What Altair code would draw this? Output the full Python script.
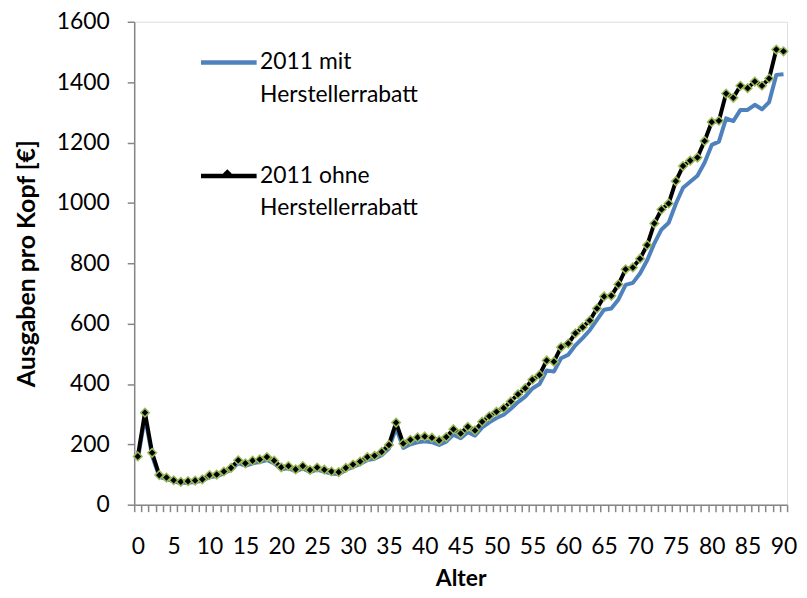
import altair as alt
import pandas as pd

# ---- data ----
ages = list(range(91))
mit = [150, 292, 162, 92, 85, 77, 72, 73, 75, 79,
       92, 94, 104, 116, 138, 129, 137, 141, 148, 137,
       117, 121, 110, 120, 108, 116, 109, 103, 101, 115,
       125, 135, 148, 152, 164, 186, 255, 188, 200, 207,
       210, 207, 198, 209, 232, 220, 240, 229, 256, 273,
       287, 298, 318, 340, 358, 385, 400, 445, 441, 485,
       497, 528, 552, 578, 612, 646, 650, 680, 728, 735,
       766, 810, 866, 912, 934, 997, 1050, 1070, 1090, 1133,
       1192, 1203, 1280, 1271, 1308, 1308, 1325, 1310, 1334, 1424,
       1426]
ohne = [160, 305, 172, 98, 90, 81, 76, 78, 80, 84,
        98, 100, 110, 122, 147, 137, 146, 150, 158, 146,
        124, 128, 117, 128, 115, 123, 116, 110, 108, 122,
        133, 143, 158, 162, 175, 198, 272, 203, 215, 223,
        226, 222, 213, 224, 250, 236, 258, 246, 275, 293,
        308, 320, 342, 366, 386, 414, 430, 478, 474, 522,
        534, 568, 588, 610, 650, 690, 692, 730, 780, 786,
        815, 860, 932, 978, 998, 1072, 1122, 1140, 1150, 1205,
        1268, 1272, 1362, 1348, 1388, 1380, 1402, 1388, 1412, 1508,
        1502]
series_names = ["2011 mit|Herstellerrabatt", "2011 ohne|Herstellerrabatt"]
y_ticks = [0, 200, 400, 600, 800, 1000, 1200, 1400, 1600]

rows = []
for a, v in zip(ages, mit):
    rows.append({"Alter": a, "Wert": v, "Reihe": series_names[0]})
for a, v in zip(ages, ohne):
    rows.append({"Alter": a, "Wert": v, "Reihe": series_names[1]})
df_lines = pd.DataFrame(rows)
df_points = pd.DataFrame({"Alter": ages, "Wert": ohne, "Reihe2": series_names[1]})

FONT = "Lato"
GREY = "#868686"
BLUE = "#4F81BD"
GREEN = "#9BBB59"
SYM = 3136  # symbol size -> 56 px legend line; custom paths scaled by 28
DIAMOND = "M0,-0.155L0.155,0L0,0.155L-0.155,0Z"
EMPTY = "M0,0"

x_scale = alt.Scale(domain=[-0.5, 90.5], nice=False, zero=False)
y_scale = alt.Scale(domain=[0, 1600], nice=False)

x_axis = alt.Axis(
    values=[a - 0.5 for a in range(92)],
    labelExpr="(datum.value + 0.5) % 5 == 0 ? format(datum.value + 0.5, 'd') : ''",
    labelOffset=3.61, labelOverlap=False, labelFlush=False, labelBound=False,
    grid=False, domainColor=GREY, domainWidth=1.5, tickColor=GREY, tickWidth=1.5,
    tickSize=7, labelPadding=24, labelFont=FONT, labelFontSize=23, labelColor="black",
    titleFont=FONT, titleFontSize=23, titleFontWeight="bold", titleColor="black",
    titleX=328.5, titleY=74, titleAlign="center", titleBaseline="middle",
)
y_axis = alt.Axis(
    values=y_ticks, format="d", grid=False, domainColor=GREY, domainWidth=1.5,
    tickColor=GREY, tickWidth=1.5, tickSize=7, labelPadding=18, labelFont=FONT,
    labelFontSize=23, labelColor="black", titleFont=FONT, titleFontSize=25,
    titleFontWeight="bold", titleColor="black", titleX=-108.5, titleY=243,
    titleAngle=270, titleAlign="center", titleBaseline="middle",
)

label_expr = "split(datum.label, '|')"
blank_expr = "['\u00a0', '\u00a0']"
LX, LY, RP = 64.7, 10.5, 39.3

lines = alt.Chart(df_lines).mark_line(strokeWidth=4, strokeJoin="round").encode(
    x=alt.X("Alter:Q", scale=x_scale, axis=x_axis, title="Alter"),
    y=alt.Y("Wert:Q", scale=y_scale, axis=y_axis, title="Ausgaben pro Kopf [€]"),
    color=alt.Color(
        "Reihe:N",
        scale=alt.Scale(range=[BLUE, "#000000"]),
        legend=alt.Legend(
            title=None, orient="none", legendX=LX, legendY=LY, padding=0,
            symbolType="stroke", symbolSize=SYM, symbolStrokeWidth=4.5,
            labelExpr=label_expr, labelFont=FONT, labelFontSize=23,
            labelColor="black", labelLimit=400,
            labelBaseline="middle", labelOffset=1, rowPadding=RP,
        ),
    ),
)

points = alt.Chart(df_points).mark_point(
    filled=True, fill="black", stroke=GREEN, strokeWidth=1.5, size=SYM, opacity=1
).encode(
    x=alt.X("Alter:Q", scale=x_scale, axis=x_axis, title="Alter"),
    y=alt.Y("Wert:Q", scale=y_scale, axis=y_axis, title="Ausgaben pro Kopf [€]"),
    shape=alt.Shape(
        "Reihe2:N",
        scale=alt.Scale(domain=series_names, range=[EMPTY, DIAMOND]),
        legend=alt.Legend(
            title=None, orient="none", legendX=LX, legendY=LY, padding=0,
            symbolFillColor="black", symbolStrokeColor=GREEN, symbolStrokeWidth=1.5,
            symbolSize=SYM,
            labelExpr=blank_expr, labelFont=FONT, labelFontSize=23,
            labelOpacity=0, labelLimit=400,
            labelBaseline="middle", labelOffset=1, rowPadding=RP,
        ),
    ),
)

chart = alt.layer(lines, points).properties(
    width=657, height=486,
    autosize=alt.AutoSizeParams(type="none"),
    padding={"left": 127, "top": 12, "right": 12, "bottom": 84},
    background="white",
).configure_view(stroke=None).configure(
    style={"guide-label": {"lineHeight": 32.5}}
)

chart.save("out.html", embed_options={"renderer": "svg", "actions": False})
